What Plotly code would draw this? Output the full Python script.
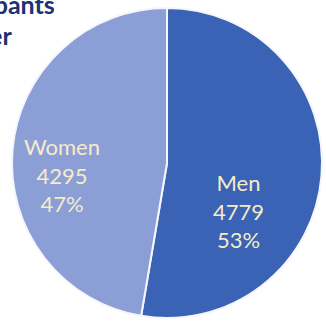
import plotly.graph_objects as go

labels = ["Men", "Women"]
values = [4779, 4295]
colors = ["#3A63B5", "#8C9ED6"]
title_line1 = "Number of Participants"
title_line2 = "by Gender"

W, H = 326, 325
total = sum(values)

fig = go.Figure(go.Pie(
    labels=labels,
    values=values,
    sort=False,
    direction="clockwise",
    rotation=0,
    marker=dict(colors=colors, line=dict(color="#F4F6FB", width=2)),
    textinfo="none",
    hoverinfo="label+value+percent",
    showlegend=False,
    domain=dict(x=[12 / W, 322 / W], y=[1 - 318 / H, 1 - 8 / H]),
))

# slice labels (positions inside each slice, as in the reference)
label_pos = {"Men": (238, 211), "Women": (62, 175)}
for lab, val in zip(labels, values):
    px, py = label_pos[lab]
    fig.add_annotation(
        text=f"{lab}<br>{val}<br>{round(100 * val / total)}%",
        xref="paper", yref="paper", x=px / W, y=1 - py / H,
        xanchor="center", yanchor="middle", showarrow=False, align="center",
        font=dict(family="Lato", size=22, color="#F6ECC9"))

fig.add_annotation(text=title_line1, xref="paper", yref="paper",
                   x=56 / W, y=1 - 20 / H, xanchor="right", yanchor="bottom",
                   showarrow=False, borderpad=0,
                   font=dict(family="Lato", size=25, color="#1A3372", weight="bold"))
fig.add_annotation(text=title_line2, xref="paper", yref="paper",
                   x=13 / W, y=1 - 51 / H, xanchor="right", yanchor="bottom",
                   showarrow=False, borderpad=0,
                   font=dict(family="Lato", size=25, color="#1A3372", weight="bold"))

fig.update_layout(width=W, height=H, margin=dict(l=0, r=0, t=0, b=0),
                  paper_bgcolor="white", plot_bgcolor="white")
fig.write_html("out.html")
